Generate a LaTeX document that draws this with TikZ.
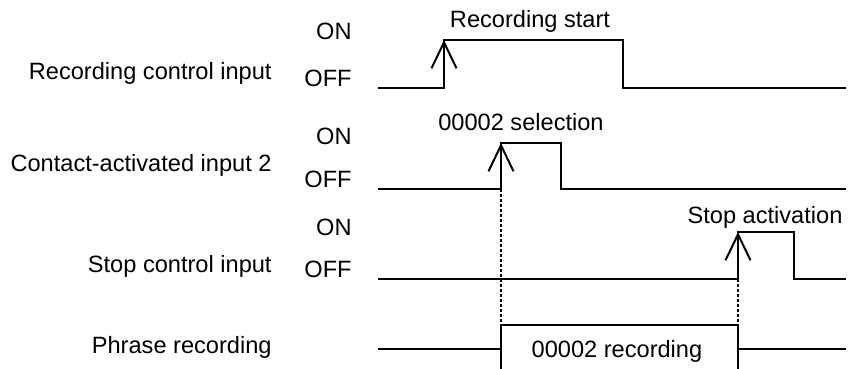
\documentclass[tikz,border=0pt]{standalone}
\usepackage{fontspec}
\setmainfont{Liberation Sans}
\usetikzlibrary{arrows.meta}

\begin{document}
\begin{tikzpicture}[
    x=0.5pt, y=-0.5pt,
    wave/.style={line width=1pt},
    edge/.style={line width=1pt, -{Straight Barb[length=13pt, width=12.5pt]}},
    guide/.style={line width=0.9pt, dash pattern=on 1.5pt off 1pt},
    txt/.style={font=\fontsize{11.8}{14}\selectfont, inner sep=0pt},
    level/.style={txt, anchor=base east}
]
\useasboundingbox (0,0) rectangle (852,369);

% signal names
\node[level] (recname) at (272,80) {Recording control input};
\node[level] (conname) at (272,172) {Contact-activated input 2};
\node[level] (stopname) at (272,272) {Stop control input};
\node[level] (phrname) at (272,353) {Phrase recording};

% ON / OFF levels
\node[level] (recon) at (352,40) {ON};
\node[level] (recoff) at (352,87) {OFF};
\node[level] (conon) at (352,145) {ON};
\node[level] (conoff) at (352,188) {OFF};
\node[level] (stopon) at (352,235) {ON};
\node[level] (stopoff) at (352,278) {OFF};

% event labels
\node[txt, anchor=base] (recstart) at (530,28) {Recording start};
\node[txt, anchor=base] (consel) at (521,131) {00002 selection};
\node[txt, anchor=base] (stopact) at (765,223) {Stop activation};
\node[txt, anchor=base] (phrtxt) at (617,357) {00002 recording};

% recording control input
\coordinate (r0) at (378,88);
\coordinate (r1) at (444,88);
\coordinate (r2) at (444,40);
\coordinate (r3) at (623,40);
\coordinate (r4) at (623,88);
\coordinate (r5) at (846,88);
\draw[wave] (r0) -- (r1) -- (r2) -- (r3) -- (r4) -- (r5);
\draw[edge] (r1) -- (r2);

% contact-activated input 2
\coordinate (c0) at (378,189);
\coordinate (c1) at (501,189);
\coordinate (c2) at (501,143);
\coordinate (c3) at (561,143);
\coordinate (c4) at (561,189);
\coordinate (c5) at (846,189);
\draw[wave] (c0) -- (c1) -- (c2) -- (c3) -- (c4) -- (c5);
\draw[edge] (c1) -- (c2);

% stop control input
\coordinate (s0) at (378,279);
\coordinate (s1) at (738,279);
\coordinate (s2) at (738,232);
\coordinate (s3) at (794,232);
\coordinate (s4) at (794,279);
\coordinate (s5) at (846,279);
\draw[wave] (s0) -- (s1) -- (s2) -- (s3) -- (s4) -- (s5);
\draw[edge] (s1) -- (s2);

% phrase recording
\coordinate (p0) at (378,349);
\coordinate (p1) at (501,349);
\coordinate (p2) at (501,369);
\coordinate (p3) at (501,325);
\coordinate (p4) at (738,325);
\coordinate (p5) at (738,369);
\coordinate (p6) at (738,349);
\coordinate (p7) at (846,349);
\draw[wave] (p0) -- (p1);
\draw[wave] (p2) -- (p3) -- (p4) -- (p5);
\draw[wave] (p6) -- (p7);

% timing guides
\draw[guide] (c1) -- (p3);
\draw[guide] (s1) -- (p4);

\end{tikzpicture}
\end{document}
